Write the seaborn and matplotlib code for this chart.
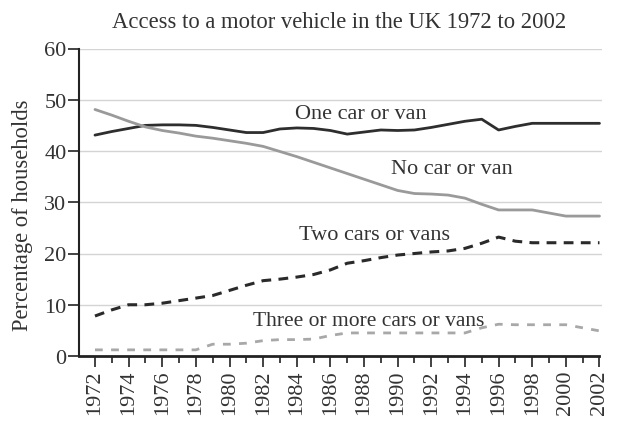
import numpy as np
import pandas as pd
import matplotlib
matplotlib.use("Agg")
import matplotlib.pyplot as plt
import seaborn as sns

years = list(range(1972, 2003))

no_car = [48.1, 47.0, 45.8, 44.7, 44.0, 43.5, 42.9, 42.5, 42.0, 41.5, 40.9,
          39.9, 38.9, 37.8, 36.7, 35.6, 34.5, 33.4, 32.3, 31.7, 31.6, 31.4,
          30.8, 29.6, 28.5, 28.5, 28.5, 27.9, 27.3, 27.3, 27.3]
one_car = [43.1, 43.8, 44.4, 45.0, 45.1, 45.1, 45.0, 44.6, 44.1, 43.6, 43.6,
           44.3, 44.5, 44.4, 44.0, 43.3, 43.7, 44.1, 44.0, 44.1, 44.6, 45.2,
           45.8, 46.2, 44.1, 44.8, 45.4, 45.4, 45.4, 45.4, 45.4]
two_cars = [7.8, 9.0, 10.0, 10.0, 10.3, 10.8, 11.3, 11.8, 12.8, 13.8, 14.7,
            15.0, 15.4, 15.9, 16.8, 18.1, 18.6, 19.2, 19.7, 20.0, 20.3, 20.5,
            21.0, 22.0, 23.2, 22.4, 22.1, 22.1, 22.1, 22.1, 22.1]
three_plus = [1.2, 1.2, 1.2, 1.2, 1.2, 1.2, 1.2, 2.3, 2.3, 2.5, 3.0,
              3.2, 3.2, 3.3, 4.0, 4.5, 4.5, 4.5, 4.5, 4.5, 4.5, 4.5,
              4.5, 5.5, 6.2, 6.1, 6.1, 6.1, 6.1, 5.5, 4.9]

labels = ["One car or van", "No car or van", "Two cars or vans", "Three or more cars or vans"]

sns.set_theme(style="white")
plt.rcParams['font.family'] = ['Liberation Serif', 'DejaVu Serif']
txt = "#333333"

fig = plt.figure(figsize=(6.23, 4.31), dpi=100)
ax = fig.add_axes([79 / 623, 1 - 357 / 431, (602 - 79) / 623, (357 - 49.5) / 431])

# gridlines first so lines sit on top
for v in range(10, 70, 10):
    ax.axhline(v, color="#d4d4d4", lw=1.0, zorder=0)

sns.lineplot(x=years, y=one_car, ax=ax, color="#2e2e2e", lw=2.0)
sns.lineplot(x=years, y=no_car, ax=ax, color="#9a9a9a", lw=2.0)
sns.lineplot(x=years, y=two_cars, ax=ax, color="#2a2a2a", lw=2.2,
             linestyle=(0, (3.2, 2.4)))
sns.lineplot(x=years, y=three_plus, ax=ax, color="#a8a8a8", lw=2.0,
             linestyle=(0, (2.8, 3.0)))

ax.text(1987.8, 47.4, labels[0], ha="center", va="center", fontsize=16, color=txt)
ax.text(1993.2, 36.6, labels[1], ha="center", va="center", fontsize=16, color=txt)
ax.text(1988.6, 23.8, labels[2], ha="center", va="center", fontsize=16, color=txt)
ax.text(1988.3, 6.9, labels[3], ha="center", va="center", fontsize=15.5, color=txt)

ax.set_xlim(1971.05, 2002.15)
ax.set_ylim(0, 60)
ax.set_yticks(range(0, 70, 10))
ax.set_xticks(range(1972, 2003, 2))
ax.set_xticks(range(1973, 2003, 2), minor=True)
ax.set_xticklabels([str(y) for y in range(1972, 2003, 2)], rotation=90)

for s in ["top", "right"]:
    ax.spines[s].set_visible(False)
ax.spines["left"].set_color("#222222")
ax.spines["left"].set_linewidth(1.5)
ax.spines["bottom"].set_color("#222222")
ax.spines["bottom"].set_linewidth(2.0)
ax.spines["bottom"].set_bounds(1971.05, 2002.0)

ax.tick_params(axis="y", which="major", direction="out", length=8, width=1.2,
               color="#222222", labelsize=16, labelcolor=txt, pad=1, left=True)
ax.tick_params(axis="x", which="major", direction="out", length=8, width=1.2,
               color="#222222", labelsize=16, labelcolor=txt, pad=2, bottom=True)
ax.tick_params(axis="x", which="minor", direction="out", length=5, width=1.2,
               color="#222222", bottom=True)

ax.set_ylabel("Percentage of households", fontsize=16.3, color=txt)
ax.yaxis.set_label_coords(-0.088, 0.46)
fig.text(339 / 623, 1 - 22 / 431, "Access to a motor vehicle in the UK 1972 to 2002",
         ha="center", va="center", fontsize=16.3, color=txt)

fig.savefig("out.png", dpi=100)
